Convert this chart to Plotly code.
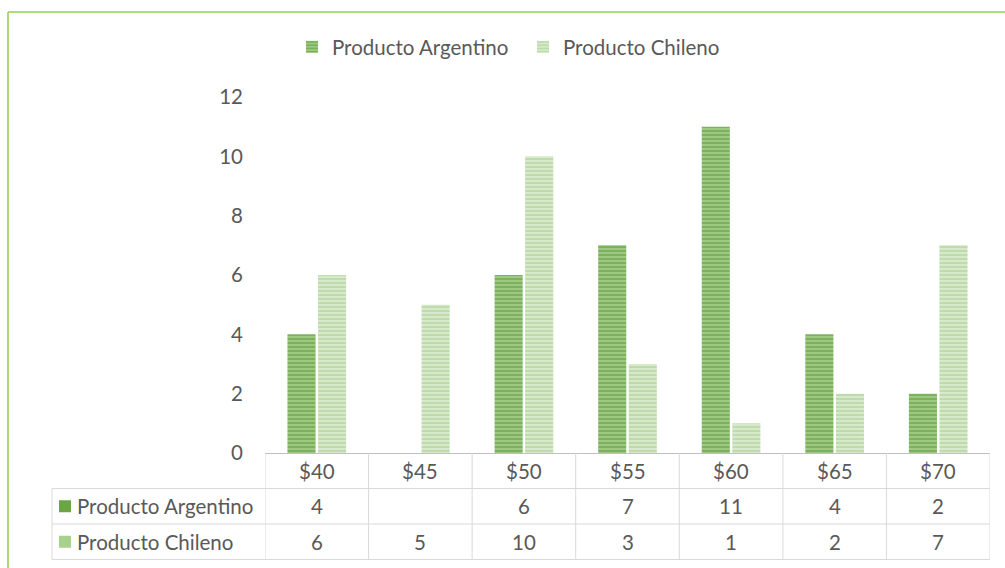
import plotly.graph_objects as go

# Precio de venta y cantidad vendida por producto
precios = ["$40", "$45", "$50", "$55", "$60", "$65", "$70"]
argentino = [4, None, 6, 7, 11, 4, 2]
chileno = [6, 5, 10, 3, 1, 2, 7]
series_names = ["Producto Argentino", "Producto Chileno"]
y_ticks = [0, 2, 4, 6, 8, 10, 12]

W, H = 1005, 568
M_L, M_R, M_T, M_B = 265, 15, 97, 115
PLOT_W = W - M_L - M_R
PLOT_H = H - M_T - M_B
FONT = "Lato"
FS = 20.5
TXT = "#595959"
GRID = "#D9D9D9"
FRAME = "#92D050"

col_arg = dict(bg="#9CC882", fg="#5E9C38", key="#6AA744")
col_chi = dict(bg="#D6E9CA", fg="#A6CF8C", key="#A9D18E")


def px(x):
    """pixel x -> paper x"""
    return (x - M_L) / PLOT_W


def py(y):
    """pixel y -> paper y"""
    return (H - M_B - y) / PLOT_H


fig = go.Figure()
for name, vals, c in [(series_names[0], argentino, col_arg), (series_names[1], chileno, col_chi)]:
    fig.add_trace(go.Bar(
        name=name, x=precios, y=vals,
        marker=dict(color=c["bg"], line=dict(width=0),
                    pattern=dict(shape="-", fgcolor=c["fg"], bgcolor=c["bg"],
                                 size=4, solidity=0.5, fillmode="overlay")),
    ))

# Data table beneath the plot
row_h = 35.5
top = H - M_B
rows_y = [top + row_h * i for i in range(4)]
shapes = []
n = len(precios)
# horizontal rules
shapes.append(dict(type="line", xref="x", yref="paper", x0=-0.5, x1=n - 0.5,
                   y0=py(rows_y[1]), y1=py(rows_y[1]), line=dict(color=GRID, width=1)))
for r in (2, 3):
    shapes.append(dict(type="line", xref="paper", yref="paper", x0=px(52), x1=1,
                       y0=py(rows_y[r]), y1=py(rows_y[r]), line=dict(color=GRID, width=1)))
shapes.append(dict(type="line", xref="paper", yref="paper", x0=px(52), x1=0,
                   y0=py(rows_y[1]), y1=py(rows_y[1]), line=dict(color=GRID, width=1)))
# vertical rules
for i in range(n + 1):
    shapes.append(dict(type="line", xref="x", yref="paper", x0=i - 0.5, x1=i - 0.5,
                       y0=py(rows_y[0]), y1=py(rows_y[3]), line=dict(color=GRID, width=1)))
shapes.append(dict(type="line", xref="paper", yref="paper", x0=px(52), x1=px(52),
                   y0=py(rows_y[1]), y1=py(rows_y[3]), line=dict(color=GRID, width=1)))

cell_font = dict(family=FONT, size=FS, color=TXT)
annotations = []
for i, p in enumerate(precios):
    annotations.append(dict(x=p, xref="x", y=py((rows_y[0] + rows_y[1]) / 2), yref="paper",
                            xanchor="center", yanchor="middle",
                            text=p, showarrow=False, font=cell_font))
for r, (name, vals, c) in enumerate([(series_names[0], argentino, col_arg),
                                     (series_names[1], chileno, col_chi)], start=1):
    yc = (rows_y[r] + rows_y[r + 1]) / 2
    shapes.append(dict(type="rect", xref="paper", yref="paper", x0=px(59), x1=px(71),
                       y0=py(yc - 6), y1=py(yc + 6), fillcolor=c["key"], line=dict(width=0)))
    annotations.append(dict(x=px(75), xref="paper", y=py(yc), yref="paper",
                            xanchor="left", yanchor="middle",
                            text=name, showarrow=False, font=cell_font))
    for p, v in zip(precios, vals):
        if v is None:
            continue
        annotations.append(dict(x=p, xref="x", y=py(yc), yref="paper", text=str(v),
                                xanchor="center", yanchor="middle",
                                showarrow=False, font=cell_font))

# green frame (top and left edges)
shapes.append(dict(type="line", xref="paper", yref="paper", x0=px(8), x1=px(W + 5),
                   y0=py(12), y1=py(12), line=dict(color=FRAME, width=1.5)))
shapes.append(dict(type="line", xref="paper", yref="paper", x0=px(8), x1=px(8),
                   y0=py(12), y1=py(H + 5), line=dict(color=FRAME, width=1.5)))

fig.update_layout(
    width=W, height=H, autosize=False,
    margin=dict(l=M_L, r=M_R, t=M_T, b=M_B),
    paper_bgcolor="white", plot_bgcolor="white",
    barmode="group", bargap=0.41, bargroupgap=0.08,
    font=dict(family=FONT, size=FS, color=TXT),
    legend=dict(orientation="h", x=px(292), xanchor="left", y=py(47), yanchor="middle",
                font=dict(family=FONT, size=FS, color=TXT), itemwidth=30,
                entrywidth=186, entrywidthmode="pixels",
                bgcolor="rgba(0,0,0,0)"),
    shapes=shapes, annotations=annotations,
    xaxis=dict(showticklabels=False, ticks="", showline=True, linecolor="#BFBFBF",
               linewidth=1, showgrid=False, range=[-0.5, n - 0.5], fixedrange=True),
    yaxis=dict(range=[0, 12], tickvals=y_ticks, showgrid=False, zeroline=False,
               showline=False, ticks="", ticklabelstandoff=21,
               tickfont=dict(family=FONT, size=FS, color=TXT)),
)

fig.write_html("out.html")
